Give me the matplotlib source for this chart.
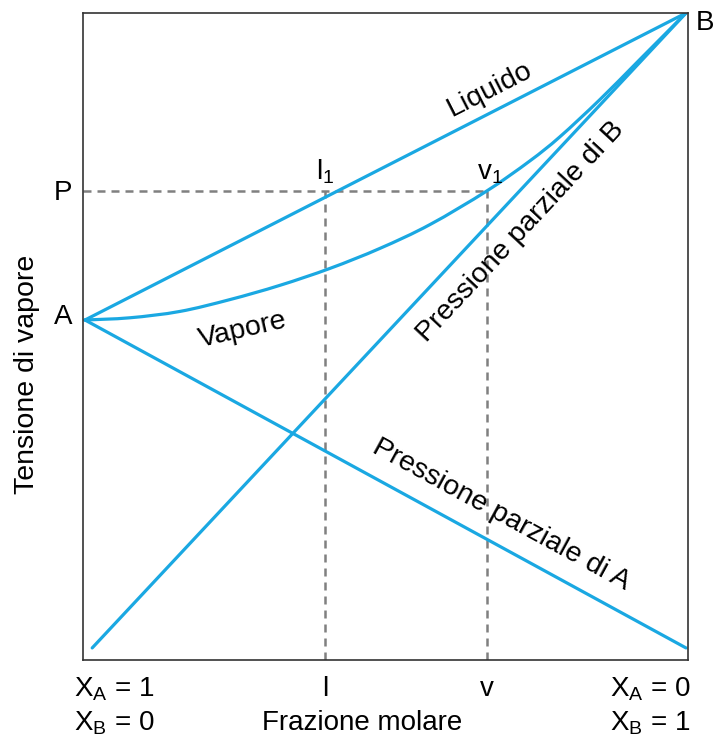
import matplotlib
matplotlib.use("Agg")
import matplotlib.pyplot as plt
from matplotlib.path import Path
from matplotlib.patches import PathPatch

plt.rcParams["font.family"] = ["Liberation Sans", "DejaVu Sans"]
plt.rcParams["mathtext.fontset"] = "custom"
plt.rcParams["mathtext.rm"] = "Liberation Sans"
plt.rcParams["mathtext.it"] = "Liberation Sans"

# Vapour pressures of the pure components (arbitrary units)
p_a_pure = 51.65
p_b_pure = 100.0

# Composition axis (mole fraction of B) and pressure of the working level
x_ends = [0.0, 1.0]
liquid_p = [p_a_pure, p_b_pure]
partial_a = [p_a_pure, 0.0]
partial_b_x = [0.012, 1.0]
partial_b = [0.0, p_b_pure]

vapour_x = [0.0, 0.075, 0.158, 0.241, 0.324, 0.408, 0.491, 0.574, 0.669,
            0.740, 0.790, 0.857, 0.923, 1.0]
vapour_p = [51.65, 52.0, 53.0, 54.86, 57.1, 59.79, 62.94, 66.68, 72.0,
            76.69, 80.49, 86.39, 92.66, 100.0]

level_p = 72.0
x_liquid = 0.40
x_vapour = 0.669

blue = "#1aa8e2"
grey = "#808080"
fs = 20
fs_curve = 20.5


def smooth_path(xs, ys):
    """Cubic Bezier path passing through every (x, y) pair (Catmull-Rom)."""
    pts = list(zip(xs, ys))
    verts = [pts[0]]
    codes = [Path.MOVETO]
    n = len(pts)
    for i in range(n - 1):
        p0 = pts[i - 1] if i > 0 else pts[i]
        p1 = pts[i]
        p2 = pts[i + 1]
        p3 = pts[i + 2] if i + 2 < n else pts[i + 1]
        c1 = (p1[0] + (p2[0] - p0[0]) / 6, p1[1] + (p2[1] - p0[1]) / 6)
        c2 = (p2[0] - (p3[0] - p1[0]) / 6, p2[1] - (p3[1] - p1[1]) / 6)
        verts += [c1, c2, p2]
        codes += [Path.CURVE4] * 3
    return Path(verts, codes)


fig = plt.figure(figsize=(7.19, 7.46), dpi=100)
ax = fig.add_axes([83 / 719, 86 / 746, 605 / 719, 647 / 746])
ax.set_xlim(-0.0033, 1.0033)
ax.set_ylim(-1.9, 100.0)
ax.set_xticks([])
ax.set_yticks([])
for s in ax.spines.values():
    s.set_linewidth(1.2)
    s.set_color("#333333")

# Dashed construction lines for the working pressure P
dash = (0, (3.2, 2.4))
ax.plot([-0.0033, x_vapour], [level_p, level_p], color=grey, lw=1.8,
        linestyle=dash, zorder=1)
ax.plot([x_liquid, x_liquid], [-1.9, level_p], color=grey, lw=1.8,
        linestyle=dash, zorder=1)
ax.plot([x_vapour, x_vapour], [-1.9, level_p], color=grey, lw=1.8,
        linestyle=dash, zorder=1)

lw = 2.3
ax.plot(x_ends, liquid_p, color=blue, lw=lw, solid_capstyle="round")
ax.plot(x_ends, partial_a, color=blue, lw=lw, solid_capstyle="round")
ax.plot(partial_b_x, partial_b, color=blue, lw=lw, solid_capstyle="round")
ax.add_patch(PathPatch(smooth_path(vapour_x, vapour_p), facecolor="none",
                       edgecolor=blue, lw=lw, capstyle="round",
                       joinstyle="round"))

# Curve labels
ax.text(0.674, 87.9, "Liquido", rotation=27, fontsize=fs_curve, ha="center",
        va="center", rotation_mode="anchor")
ax.text(0.263, 50.1, "Vapore", rotation=13, fontsize=fs_curve, ha="center",
        va="center", rotation_mode="anchor")
ax.text(0.725, 65.5, "Pressione parziale di B", rotation=47,
        fontsize=fs_curve, ha="center", va="center", rotation_mode="anchor")
ax.text(0.692, 21.0, "Pressione parziale di A", rotation=-28.6,
        fontsize=fs_curve, ha="center", va="center", rotation_mode="anchor")

# Point labels
ax.text(0.384, 73.7, r"l$_\mathregular{1}$", fontsize=fs, ha="left",
        va="baseline")
ax.text(0.652, 73.7, r"v$_\mathregular{1}$", fontsize=fs, ha="left",
        va="baseline")
ax.text(-0.036, level_p - 0.3, "P", fontsize=fs, ha="center", va="center",
        clip_on=False)
ax.text(-0.036, p_a_pure + 0.5, "A", fontsize=fs, ha="center", va="center",
        clip_on=False)
ax.text(1.032, 98.4, "B", fontsize=fs, ha="center", va="center",
        clip_on=False)

# Composition labels under the axis
fig.text(74 / 719, 1 - 689 / 746, r"X$_\mathregular{A}$ = 1", fontsize=fs,
         ha="left", va="center")
fig.text(74 / 719, 1 - 723 / 746, r"X$_\mathregular{B}$ = 0", fontsize=fs,
         ha="left", va="center")
fig.text(690 / 719, 1 - 689 / 746, r"X$_\mathregular{A}$ = 0", fontsize=fs,
         ha="right", va="center")
fig.text(690 / 719, 1 - 723 / 746, r"X$_\mathregular{B}$ = 1", fontsize=fs,
         ha="right", va="center")
fig.text(325 / 719, 1 - 689 / 746, "l", fontsize=fs, ha="center", va="center")
fig.text(487 / 719, 1 - 689 / 746, "v", fontsize=fs, ha="center", va="center")
fig.text(362 / 719, 1 - 723 / 746, "Frazione molare", fontsize=fs,
         ha="center", va="center")
fig.text(27 / 719, 1 - 374 / 746, "Tensione di vapore", fontsize=fs_curve,
         rotation=90, ha="center", va="center")

fig.savefig("out.png", dpi=100)
